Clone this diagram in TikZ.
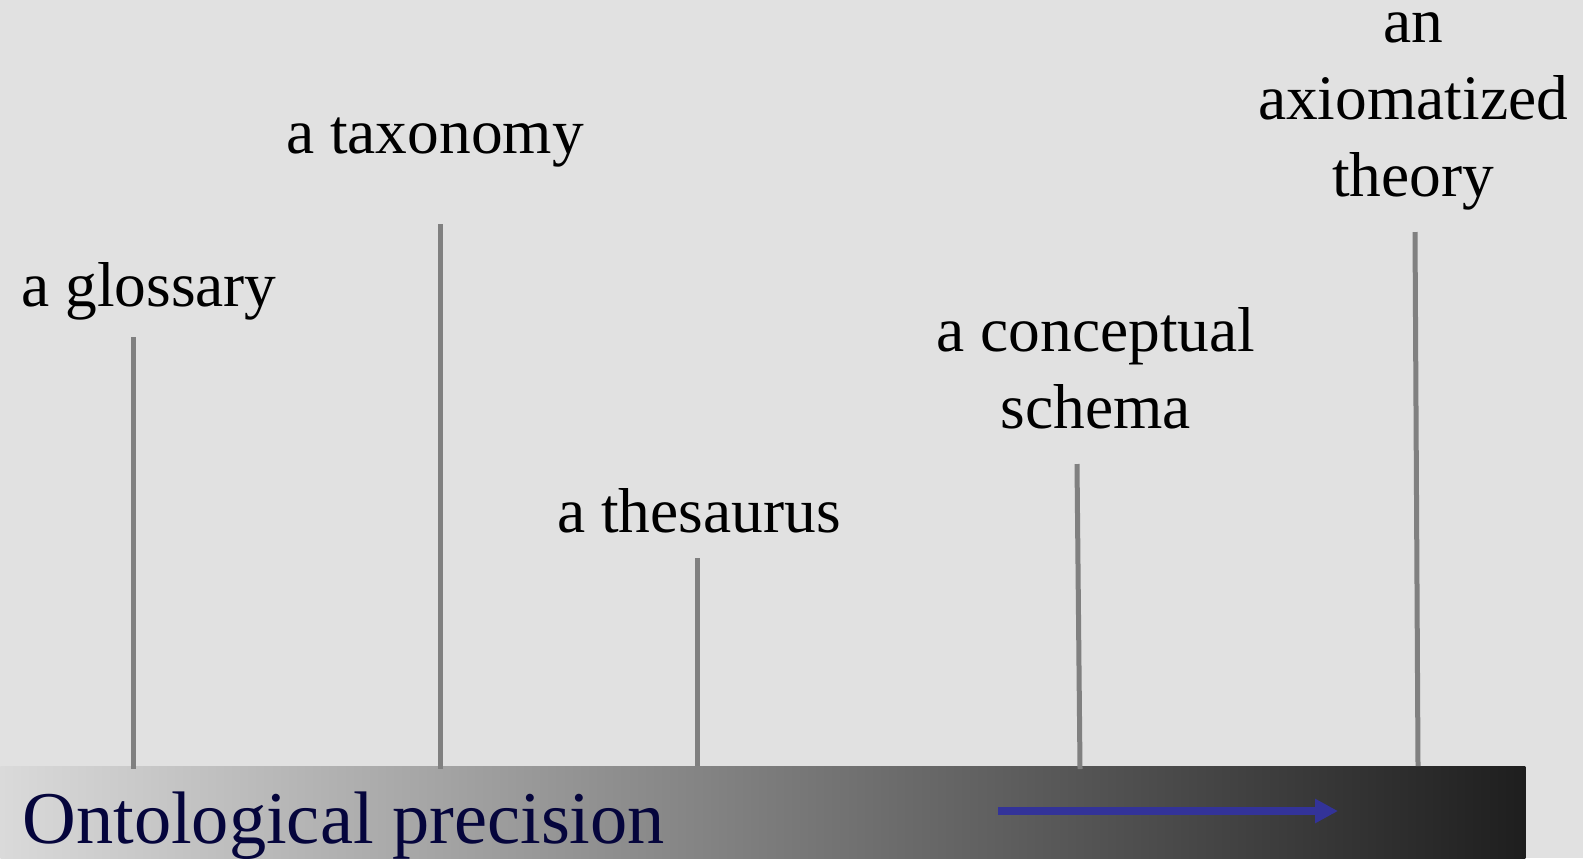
\documentclass[tikz,border=0pt]{standalone}
\usepackage{fontspec}
\setmainfont{Liberation Serif}
\usetikzlibrary{arrows.meta,positioning}
\definecolor{bgGray}{RGB}{225,225,225}
\definecolor{tickGray}{RGB}{128,128,128}
\definecolor{barLight}{RGB}{218,218,218}
\definecolor{barMid}{RGB}{165,165,165}
\definecolor{barDark}{RGB}{30,30,30}
\definecolor{arrowBlue}{RGB}{51,51,153}
\definecolor{titleNavy}{RGB}{5,5,60}

\begin{document}
\begin{tikzpicture}[
  x=0.5pt, y=-0.5pt,
  lbl/.style={font=\fontsize{31.7}{38.5}\selectfont, align=center,
              inner sep=0pt, anchor=base},
  tick/.style={draw=tickGray, line width=2.5pt},
  >={Triangle[length=11.5pt, width=11.5pt]}]
% background
\fill[bgGray] (0,0) rectangle (1583,858);
\useasboundingbox (0,0) rectangle (1583,858);
% precision bar
\node[shade, left color=barLight, middle color=barMid, right color=barDark,
      minimum width=762.5pt, minimum height=46pt, inner sep=0pt,
      anchor=north west] (bar) at (0,766) {};
\node[font=\fontsize{37.2}{40}\selectfont, text=titleNavy, inner sep=0pt,
      anchor=base west] (title) at (22,843) {Ontological precision};
\coordinate (arrS) at (998,811);
\coordinate (arrE) at (1338,811);
\draw[->, draw=arrowBlue, line width=4.2pt] (arrS) -- (arrE);
% labels
\node[lbl] (glossary) at (149,306) {a glossary};
\node[lbl] (taxonomy) at (435,153) {a taxonomy};
\node[lbl] (thesaurus) at (699,532) {a thesaurus};
\node[lbl] (schema) at (1096,428) {a conceptual\\schema};
\node[lbl] (theory) at (1413,196) {an\\axiomatized\\theory};
% ticks
\coordinate (gTop) at (133,337);  \coordinate (gBot) at (133,769);
\coordinate (tTop) at (440,224);  \coordinate (tBot) at (440,769);
\coordinate (sTop) at (697,558);  \coordinate (sBot) at (697,766);
\coordinate (cTop) at (1077,464); \coordinate (cBot) at (1080,769);
\coordinate (aTop) at (1415,232); \coordinate (aBot) at (1418,766);
\draw[tick] (gTop) -- (gBot);
\draw[tick] (tTop) -- (tBot);
\draw[tick] (sTop) -- (sBot);
\draw[tick] (cTop) -- (cBot);
\draw[tick] (aTop) -- (aBot);
\end{tikzpicture}
\end{document}
